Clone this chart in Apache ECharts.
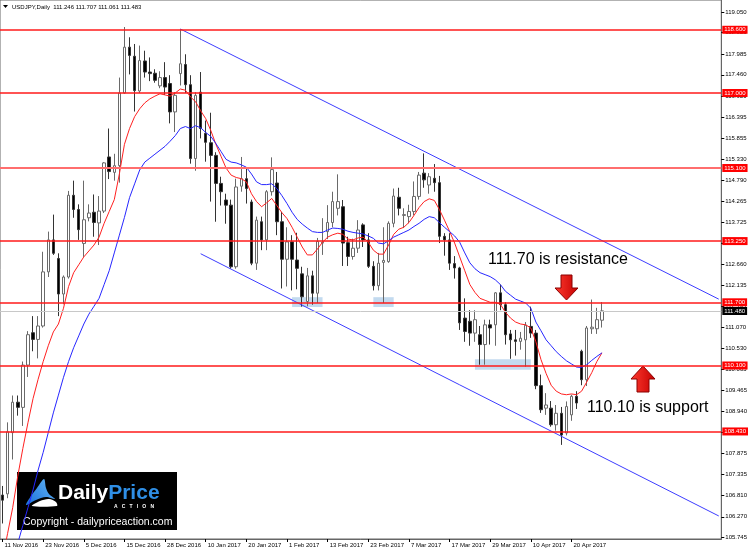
<!DOCTYPE html>
<html>
<head>
<meta charset="utf-8">
<title>USDJPY Daily</title>
<script src="https://cdn.jsdelivr.net/npm/echarts@6/dist/echarts.min.js"></script>
<style>
  html, body { margin: 0; padding: 0; background: #fff; }
  #chart { width: 750px; height: 553px; }
</style>
</head>
<body>
<div id="chart"></div>
<script>
// trading days shown on the chart (11 Nov 2016 .. 28 Apr 2017)
const dates = [
  '11 Nov 2016','14 Nov 2016','15 Nov 2016','16 Nov 2016','17 Nov 2016','18 Nov 2016','21 Nov 2016','22 Nov 2016','23 Nov 2016','24 Nov 2016',
  '25 Nov 2016','28 Nov 2016','29 Nov 2016','30 Nov 2016','1 Dec 2016','2 Dec 2016','5 Dec 2016','6 Dec 2016','7 Dec 2016','8 Dec 2016',
  '9 Dec 2016','12 Dec 2016','13 Dec 2016','14 Dec 2016','15 Dec 2016','16 Dec 2016','19 Dec 2016','20 Dec 2016','21 Dec 2016','22 Dec 2016',
  '23 Dec 2016','27 Dec 2016','28 Dec 2016','29 Dec 2016','30 Dec 2016','3 Jan 2017','4 Jan 2017','5 Jan 2017','6 Jan 2017','9 Jan 2017',
  '10 Jan 2017','11 Jan 2017','12 Jan 2017','13 Jan 2017','16 Jan 2017','17 Jan 2017','18 Jan 2017','19 Jan 2017','20 Jan 2017','23 Jan 2017',
  '24 Jan 2017','25 Jan 2017','26 Jan 2017','27 Jan 2017','30 Jan 2017','31 Jan 2017','1 Feb 2017','2 Feb 2017','3 Feb 2017','6 Feb 2017',
  '7 Feb 2017','8 Feb 2017','9 Feb 2017','10 Feb 2017','13 Feb 2017','14 Feb 2017','15 Feb 2017','16 Feb 2017','17 Feb 2017','20 Feb 2017',
  '21 Feb 2017','22 Feb 2017','23 Feb 2017','24 Feb 2017','27 Feb 2017','28 Feb 2017','1 Mar 2017','2 Mar 2017','3 Mar 2017','6 Mar 2017',
  '7 Mar 2017','8 Mar 2017','9 Mar 2017','10 Mar 2017','13 Mar 2017','14 Mar 2017','15 Mar 2017','16 Mar 2017','17 Mar 2017','20 Mar 2017',
  '21 Mar 2017','22 Mar 2017','23 Mar 2017','24 Mar 2017','27 Mar 2017','28 Mar 2017','29 Mar 2017','30 Mar 2017','31 Mar 2017','3 Apr 2017',
  '4 Apr 2017','5 Apr 2017','6 Apr 2017','7 Apr 2017','10 Apr 2017','11 Apr 2017','12 Apr 2017','13 Apr 2017','14 Apr 2017','17 Apr 2017',
  '18 Apr 2017','19 Apr 2017','20 Apr 2017','21 Apr 2017','24 Apr 2017','25 Apr 2017','26 Apr 2017','27 Apr 2017','28 Apr 2017'
];
const futureBars = 23; // empty space right of the last candle

const opens = [
  106.82,106.85,108.40,109.17,109.04,110.11,110.93,110.76,111.10,112.47,
  113.28,112.81,111.91,112.34,114.41,114.05,113.19,113.84,113.98,113.71,
  114.01,115.38,114.99,115.16,117.00,118.16,117.93,117.05,117.81,117.53,
  117.50,117.18,117.39,117.24,116.52,117.49,117.72,117.21,115.34,117.02,
  115.98,115.74,115.42,114.71,114.29,114.16,112.60,114.64,114.83,114.24,
  112.69,113.74,113.28,114.50,114.72,113.74,112.79,113.23,112.77,112.42,
  111.72,112.37,111.93,113.20,113.49,113.72,114.08,114.12,113.21,112.86,
  113.07,113.66,113.28,112.61,112.12,112.71,112.73,113.70,114.36,113.90,
  113.87,114.00,114.38,114.97,114.67,114.84,114.73,113.37,113.28,112.68,
  112.57,111.30,111.22,110.92,110.88,110.63,111.13,111.13,111.94,111.64,
  110.90,110.75,110.71,110.75,111.09,110.92,109.59,109.02,109.02,108.60,
  108.89,108.39,108.85,109.32,110.46,109.74,111.03,111.03,111.246
];
const highs = [
  107.05,108.66,109.34,109.34,110.20,110.97,111.35,111.35,112.98,113.49,
  113.92,112.94,112.38,114.52,114.78,114.18,114.78,114.18,114.43,114.39,
  115.25,116.10,115.46,117.39,118.67,118.41,118.24,118.20,118.07,117.90,
  117.60,117.55,117.78,117.45,117.02,118.62,117.98,117.45,117.02,117.53,
  116.30,116.50,115.50,114.88,114.45,114.30,114.83,115.38,115.10,114.30,
  113.87,113.87,114.54,115.37,115.00,113.99,113.60,113.40,113.46,112.60,
  112.57,112.50,113.33,113.83,114.16,114.50,114.94,114.29,113.36,113.31,
  113.78,113.70,113.45,112.74,112.95,113.60,113.75,114.58,114.60,114.08,
  114.17,114.76,115.00,115.47,114.97,115.20,114.90,113.45,113.45,112.87,
  112.60,111.80,111.50,111.50,111.10,111.26,111.26,111.96,112.15,111.70,
  111.00,111.00,110.95,111.20,111.59,111.00,109.87,109.40,109.20,109.10,
  109.05,109.19,109.36,109.45,110.50,111.10,111.77,111.56,111.707
];
const lows = [
  106.10,106.74,107.72,108.83,108.57,109.81,110.46,110.28,111.06,112.34,
  112.90,111.35,111.65,112.30,113.84,113.28,112.85,113.75,113.36,113.15,
  113.96,114.82,114.78,114.73,116.98,117.47,116.53,117.00,117.39,117.30,
  117.26,117.12,116.95,116.23,116.01,117.19,117.00,115.21,115.03,115.85,
  115.26,114.25,113.74,114.15,113.69,112.55,112.55,114.50,114.20,112.64,
  112.52,113.02,113.02,114.40,113.40,112.05,112.10,112.00,112.03,111.59,
  111.60,111.64,111.68,112.90,113.30,113.60,113.90,112.62,112.62,112.78,
  112.95,113.10,112.57,112.00,112.00,111.68,112.70,113.60,113.90,113.58,
  113.70,113.90,114.30,114.60,114.45,114.50,113.20,112.88,112.52,112.30,
  111.00,110.70,110.60,110.70,110.12,110.12,110.63,110.60,111.50,110.63,
  110.27,110.35,110.50,110.07,110.80,109.50,108.90,108.85,108.55,108.45,
  108.09,108.33,108.70,109.00,109.60,109.58,110.90,110.90,111.061
];
const closes = [
  106.69,108.42,109.17,109.04,110.11,110.88,110.76,111.10,112.47,113.28,
  112.94,111.91,112.34,114.41,114.05,113.54,113.79,113.96,113.72,114.01,
  115.23,115.01,115.16,117.00,118.16,117.95,117.06,117.82,117.53,117.49,
  117.32,117.39,117.15,116.52,116.94,117.74,117.21,115.34,116.94,116.10,
  115.75,115.42,114.71,114.50,114.16,112.60,114.62,114.83,114.58,112.69,
  113.78,113.28,114.50,115.06,113.74,112.79,113.23,112.79,112.56,111.84,
  112.37,111.93,113.24,113.22,113.72,114.25,114.25,113.20,112.86,113.07,
  113.53,113.28,112.61,112.12,112.69,112.76,113.70,114.39,114.08,113.92,
  114.00,114.38,114.92,114.80,114.88,114.73,113.37,113.28,112.69,112.57,
  111.18,110.96,110.92,111.26,110.63,111.13,111.05,111.94,111.64,110.88,
  110.75,110.71,110.79,111.12,110.92,109.59,108.98,109.10,108.60,108.89,
  108.34,109.06,109.32,109.15,109.74,111.05,111.07,111.26,111.483
];
// moving averages as drawn on the chart (red = fast, blue = slow)
const fastMa = [
  105.20,105.85,106.50,107.30,108.00,108.65,109.26,109.75,110.20,110.60,
  110.95,111.15,111.55,112.10,112.45,112.65,112.85,113.00,113.15,113.35,
  113.70,114.00,114.30,114.95,115.70,116.10,116.40,116.60,116.75,116.85,
  116.92,116.98,116.95,116.92,117.00,117.10,117.07,116.90,116.78,116.55,
  116.35,116.05,115.70,115.40,115.10,114.92,114.86,114.83,114.75,114.45,
  114.25,114.12,114.22,114.33,114.15,113.97,113.82,113.60,113.35,113.10,
  112.90,112.90,113.05,113.22,113.35,113.41,113.45,113.42,113.30,113.28,
  113.33,113.35,113.22,113.02,112.92,112.92,113.15,113.42,113.55,113.60,
  113.72,113.90,114.10,114.25,114.32,114.28,114.05,113.78,113.50,113.20,
  112.85,112.50,112.15,111.95,111.80,111.75,111.70,111.70,111.65,111.45,
  111.30,111.20,111.15,111.13,111.05,110.70,110.25,109.90,109.60,109.45,
  109.38,109.36,109.38,109.36,109.45,109.68,109.92,110.20,110.42
];
const slowMa = [
  104.60,104.90,105.20,105.60,106.05,106.50,106.95,107.45,107.90,108.40,
  108.90,109.35,109.80,110.20,110.55,110.85,111.15,111.40,111.60,111.80,
  112.15,112.50,112.95,113.40,113.85,114.35,114.70,115.05,115.25,115.35,
  115.45,115.55,115.65,115.78,115.92,116.10,116.15,116.10,116.17,116.12,
  116.00,115.90,115.72,115.52,115.32,115.25,115.23,115.18,115.12,114.95,
  114.75,114.68,114.68,114.70,114.58,114.40,114.20,113.98,113.80,113.68,
  113.58,113.49,113.47,113.47,113.53,113.58,113.57,113.55,113.50,113.47,
  113.45,113.43,113.38,113.32,113.20,113.18,113.26,113.35,113.41,113.47,
  113.53,113.62,113.70,113.80,113.87,113.84,113.72,113.60,113.49,113.38,
  113.22,112.95,112.70,112.55,112.45,112.40,112.35,112.27,112.15,111.98,
  111.88,111.78,111.73,111.68,111.55,111.20,110.98,110.75,110.60,110.45,
  110.33,110.22,110.14,110.06,110.05,110.12,110.23,110.33,110.42
];

const levels = [118.6, 117.0, 115.1, 113.25, 111.7, 110.1, 108.43];
const lastPrice = 111.483;
// channel lines: [bar index, price]
const upperChannel = [[35, 118.62], [141, 111.78]];
const lowerChannel = [[39, 112.93], [141, 106.29]];
// support zones: [from bar, to bar, low, high]
const supportZones = [
  [57, 63, 111.58, 111.83],
  [73, 77, 111.58, 111.83],
  [93, 104, 109.99, 110.26]
];
const priceTicks = [
  119.050, 118.525, 117.985, 117.460, 116.920, 116.395, 115.855, 115.330, 114.790,
  114.265, 113.725, 113.200, 112.660, 112.135, 111.595, 111.070, 110.530, 110.005,
  109.465, 108.940, 108.400, 107.875, 107.335, 106.810, 106.270, 105.745
];
const header = 'USDJPY,Daily  111.246 111.707 111.061 111.483';

const fontFamily = '"Liberation Sans", Arial, sans-serif';
const color = {
  level: '#ff1a1a',
  fast: '#ff2020',
  slow: '#2626ff',
  channel: '#3d3dff',
  zone: 'rgba(170, 203, 232, 0.7)',
  frame: '#666'
};

const categories = dates.concat(new Array(futureBars).fill(''));
const candles = opens.map((o, i) => [o, closes[i], lows[i], highs[i]]);
const showDate = idx => idx % 8 === 0 && idx < dates.length;

const chart = echarts.init(document.getElementById('chart'), null, { devicePixelRatio: 1 });

const arrowFill = new echarts.graphic.LinearGradient(0, 0, 1, 0, [
  { offset: 0, color: '#ff3b30' },
  { offset: 1, color: '#c40000' }
]);
const priceLabel = bg => ({
  show: true, position: 'end', distance: 1,
  formatter: p => p.value.toFixed(3),
  color: '#fff', backgroundColor: bg,
  fontSize: 6, fontFamily, padding: [1, 2, 1, 2]
});

const option = {
  animation: false,
  backgroundColor: '#fff',
  grid: {
    left: 0, right: 27, top: 0, bottom: 14,
    show: true, borderColor: color.frame, borderWidth: 1
  },
  xAxis: {
    type: 'category',
    data: categories,
    axisLine: { show: true, lineStyle: { color: color.frame } },
    axisTick: { show: true, alignWithLabel: true, interval: showDate, length: 3, lineStyle: { color: '#000' } },
    axisLabel: {
      interval: showDate, align: 'left', margin: 3, padding: [0, 0, 0, 2],
      fontSize: 6, fontFamily, color: '#000'
    },
    splitLine: { show: false }
  },
  yAxis: {
    type: 'value',
    position: 'right',
    min: 105.707,
    max: 119.354,
    axisLine: { show: true, lineStyle: { color: color.frame } },
    axisTick: { show: true, customValues: priceTicks, length: 3, lineStyle: { color: '#000' } },
    axisLabel: {
      customValues: priceTicks, margin: 4,
      fontSize: 6, fontFamily, color: '#000',
      formatter: v => v.toFixed(3)
    },
    splitLine: { show: false }
  },
  series: [
    {
      // horizontal levels drawn first, under the candles
      name: 'levels',
      type: 'line',
      data: [],
      silent: true,
      markLine: {
        silent: true,
        symbol: ['none', 'none'],
        lineStyle: { color: color.level, width: 1.5, type: 'solid', opacity: 1 },
        emphasis: { disabled: true },
        data: levels.map(v => ({
          yAxis: v,
          lineStyle: { color: v === 115.1 ? '#ff6e6e' : color.level, width: v === 115.1 ? 2 : 1.5, type: 'solid', opacity: 1 },
          label: priceLabel('#ff0000')
        })).concat([{
          yAxis: lastPrice,
          lineStyle: { color: '#c8c8c8', width: 1, type: 'solid', opacity: 1 },
          label: priceLabel('#000')
        }])
      }
    },
    {
      type: 'candlestick',
      data: candles,
      barWidth: 3,
      itemStyle: {
        color: '#fff', color0: '#000',
        borderColor: '#6a6a6a', borderColor0: '#333',
        borderWidth: 1
      },
      markArea: {
        silent: true,
        itemStyle: { color: color.zone },
        data: supportZones.map(z => [{ xAxis: z[0], yAxis: z[3] }, { xAxis: z[1], yAxis: z[2] }])
      }
    },
    {
      type: 'line', data: fastMa, showSymbol: false, silent: true,
      lineStyle: { color: color.fast, width: 1 }
    },
    {
      type: 'line', data: slowMa, showSymbol: false, silent: true,
      lineStyle: { color: color.slow, width: 1 }
    },
    {
      type: 'line', data: upperChannel, showSymbol: false, silent: true,
      lineStyle: { color: color.channel, width: 1 }
    },
    {
      type: 'line', data: lowerChannel, showSymbol: false, silent: true,
      lineStyle: { color: color.channel, width: 1 }
    }
  ],
  graphic: [
    // header
    { type: 'polygon', shape: { points: [[3, 5], [8, 5], [5.5, 8]] }, style: { fill: '#000' } },
    { type: 'text', x: 12, y: 7, style: { text: header, fontSize: 6, fontFamily, fill: '#000', verticalAlign: 'middle' } },
    // annotations
    { type: 'text', x: 488, y: 260, style: { text: '111.70 is resistance', fontSize: 16, fontFamily, fill: '#000', verticalAlign: 'middle' } },
    { type: 'text', x: 587, y: 408, style: { text: '110.10 is support', fontSize: 16, fontFamily, fill: '#000', verticalAlign: 'middle' } },
    {
      type: 'polygon',
      shape: { points: [[561, 275], [572, 275], [572, 288], [578, 288], [566.5, 300], [555, 288], [561, 288]] },
      style: { fill: arrowFill, stroke: '#8a0000', lineWidth: 1 }
    },
    {
      type: 'polygon',
      shape: { points: [[643, 366], [655, 379], [649, 379], [649, 392], [637, 392], [637, 379], [631, 379]] },
      style: { fill: arrowFill, stroke: '#8a0000', lineWidth: 1 }
    },
    // logo
    {
      type: 'group', z: 100,
      children: [
        { type: 'rect', shape: { x: 17, y: 472, width: 160, height: 58 }, style: { fill: '#000' } },
        {
          type: 'polygon',
          shape: {
            points: [[26, 505], [31, 496], [37, 488], [44, 479], [46, 488], [49, 494], [55, 499], [46, 497], [36, 500]],
            smooth: 0.3
          },
          style: {
            fill: new echarts.graphic.LinearGradient(0, 1, 1, 0, [
              { offset: 0, color: '#1b6fd8' },
              { offset: 1, color: '#62b6f6' }
            ])
          }
        },
        {
          type: 'polygon',
          shape: { points: [[32, 506], [40, 501], [49, 499], [56, 502], [57, 506]], smooth: 0.3 },
          style: { fill: '#fff' }
        },
        {
          type: 'text', x: 58, y: 493,
          style: {
            text: '{d|Daily}{p|Price}',
            fontSize: 21, fontWeight: 'bold', fontFamily, verticalAlign: 'middle',
            rich: {
              d: { fill: '#fff', fontSize: 21, fontWeight: 'bold', fontFamily },
              p: { fill: '#2f8fe6', fontSize: 21, fontWeight: 'bold', fontFamily }
            }
          }
        },
        { type: 'text', x: 114, y: 507, style: { text: 'A   C   T   I   O   N', fontSize: 5, fontWeight: 'bold', fontFamily, fill: '#fff', verticalAlign: 'middle' } },
        { type: 'text', x: 23, y: 522, style: { text: 'Copyright - dailypriceaction.com', fontSize: 10.5, fontFamily, fill: '#fff', verticalAlign: 'middle' } }
      ]
    }
  ]
};

chart.setOption(option);
</script>
</body>
</html>
